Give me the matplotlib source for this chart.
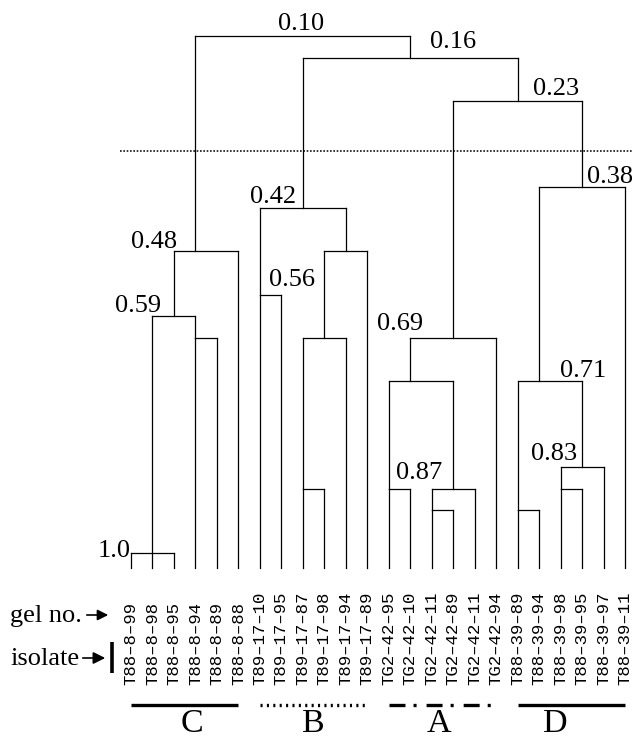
import math
import matplotlib
matplotlib.use("Agg")
import matplotlib.pyplot as plt
import matplotlib.transforms as mtransforms

# leaves, left to right
leaf_labels = [
    "T88–8–99", "T88–8–98", "T88–8–95", "T88–8–94", "T88–8–89", "T88–8–88",
    "T89–17–10", "T89–17–95", "T89–17–87", "T89–17–98", "T89–17–94", "T89–17–89",
    "TG2–42–95", "TG2–42–10", "TG2–42–11", "TG2–42–89", "TG2–42–11", "TG2–42–94",
    "T88–39–89", "T88–39–94", "T88–39–98", "T88–39–95", "T88–39–97", "T88–39–11",
]

# merges: children are leaf indices (0-23) or earlier merge ids (24 + row)
merge_children = [
    [0, 1, 2], [3, 4], [24, 25], [26, 5],
    [6, 7], [8, 9], [29, 10], [30, 11], [28, 31],
    [12, 13], [14, 15], [34, 16], [33, 35], [36, 17],
    [18, 19], [20, 21], [39, 22], [38, 40], [41, 23],
    [37, 42], [32, 43], [27, 44],
]
merge_heights = [
    1.0, 0.625, 0.588, 0.475,
    0.55, 0.888, 0.625, 0.475, 0.40,
    0.888, 0.925, 0.888, 0.70, 0.625,
    0.925, 0.888, 0.85, 0.70, 0.363,
    0.213, 0.138, 0.10,
]
merge_labels = [
    "1.0", "", "0.59", "0.48",
    "0.56", "", "", "", "0.42",
    "", "", "0.87", "", "0.69",
    "", "", "0.83", "0.71", "0.38",
    "0.23", "0.16", "0.10",
]
cut_level = 0.30
leaf_tip = 1.026

group_names = ["C", "B", "A", "D"]
group_first = [0, 6, 12, 18]
group_last = [5, 11, 17, 23]

# label placement (pixels from node: dx, baseline height above bar)
label_offset = {
    "1.0": (-38, -4), "0.59": (-36, 4), "0.48": (-41, 3), "0.56": (32, 8),
    "0.42": (-30, 5), "0.87": (-34, 10), "0.69": (-53, 8), "0.83": (-28, 7),
    "0.71": (44, 4), "0.38": (28, 4), "0.23": (38, 6), "0.16": (43, 10),
    "0.10": (-2, 6),
}
group_dx = {"C": 7, "B": 0, "A": -4, "D": -16}
group_style = {
    "C": "-",
    "B": (0, (1.5, 3.1)),
    "A": (0, (11.5, 5.8, 2.2, 7.2)),
    "D": "-",
}

plt.rcParams["lines.scale_dashes"] = False
serif = ["Liberation Serif", "DejaVu Serif"]
mono = ["Liberation Mono", "DejaVu Sans Mono"]

W, H = 632, 740
fig = plt.figure(figsize=(W / 100, H / 100), dpi=100)
ax = fig.add_axes([0, 0, 1, 1])
ax.axis("off")
step = 21.48
ax.set_xlim(-131 / step, (W - 131) / step)
ax.set_ylim(0.10 + (H - 36) * 0.9 / 517, 0.10 - 36 * 0.9 / 517)

pix = mtransforms.Affine2D().scale(1 / W, -1 / H).translate(0, 1) + fig.transFigure
xdata_ypix = mtransforms.blended_transform_factory(ax.transData, pix)

pos = {i: i for i in range(len(leaf_labels))}
hgt = {i: leaf_tip for i in range(len(leaf_labels))}
n = len(leaf_labels)
for k, (kids, h, lab) in enumerate(zip(merge_children, merge_heights, merge_labels)):
    xs = [pos[c] for c in kids]
    ax.plot([xs[0], xs[-1]], [h, h], color="black", lw=0.9)
    for c in kids:
        ax.plot([pos[c], pos[c]], [hgt[c], h], color="black", lw=0.9)
    node = n + k
    pos[node] = math.floor((xs[0] + xs[-1]) / 2)
    hgt[node] = h
    if lab:
        dx, dy = label_offset[lab]
        ax.annotate(lab, xy=(pos[node], h), xytext=(dx, dy), textcoords="offset pixels",
                    ha="center", va="baseline", fontsize=19, family=serif)

# cut line
ax.plot([-0.51, 23.4], [cut_level, cut_level], color="black", lw=1.1,
        linestyle=(0, (1.2, 1.2)))

for i, lab in enumerate(leaf_labels):
    ax.text(i, 685, lab, transform=xdata_ypix, rotation=90, ha="center", va="bottom",
            fontsize=12.5, family=mono)

for g, a, b in zip(group_names, group_first, group_last):
    ax.plot([a, b], [705, 705], transform=xdata_ypix, color="black", lw=2.4,
            linestyle=group_style[g], solid_capstyle="butt", dash_capstyle="butt")
    ax.annotate(g, xy=((a + b) / 2, 739), xycoords=xdata_ypix, xytext=(group_dx[g], 0),
                textcoords="offset pixels", ha="center", va="bottom",
                fontsize=24.5, family=serif)

ax.text(10, 622, "gel no.", transform=pix, ha="left", va="baseline", fontsize=19, family=serif)
ax.annotate("", xy=(111, 615), xycoords=pix, xytext=(84, 615), textcoords=pix,
            arrowprops=dict(arrowstyle="-|>", color="black", lw=1.2, mutation_scale=16))
ax.text(10, 665, "isolate", transform=pix, ha="left", va="baseline", fontsize=19, family=serif)
ax.annotate("", xy=(108, 658), xycoords=pix, xytext=(80, 658), textcoords=pix,
            arrowprops=dict(arrowstyle="-|>", color="black", lw=1.2, mutation_scale=18))
ax.plot([112, 112], [642, 673], transform=pix, color="black", lw=2.6, solid_capstyle="butt")

fig.savefig("out.png", dpi=100)
